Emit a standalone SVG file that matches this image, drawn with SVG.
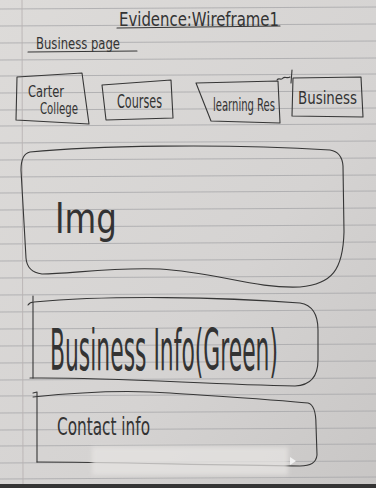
<svg xmlns="http://www.w3.org/2000/svg" width="376" height="488" viewBox="0 0 376 488">
  <defs>
    <linearGradient id="paper" x1="0" y1="0" x2="1" y2="1">
      <stop offset="0" stop-color="#dddbd9"/>
      <stop offset="0.6" stop-color="#d5d3d2"/>
      <stop offset="1" stop-color="#c8c6c5"/>
    </linearGradient>
    <filter id="soft" x="-10%" y="-30%" width="120%" height="160%">
      <feGaussianBlur stdDeviation="2"/>
    </filter>
    <style>
      .rule { stroke: #a7a7aa; stroke-width: 0.8; fill: none; }
      .ink { stroke: #363636; stroke-width: 1.1; fill: none; stroke-linecap: round; stroke-linejoin: round; }
      .hand { font-family: "DejaVu Sans Condensed", "Liberation Sans Narrow", "Liberation Sans", sans-serif; fill: #333333; font-weight: 300; }
    </style>
  </defs>

  <!-- notebook paper -->
  <rect x="0" y="0" width="376" height="488" fill="url(#paper)"/>
  <g id="ruling">
    <path class="rule" d="M0,9 L376,7 M0,26 L376,24 M0,43 L376,41 M0,60 L376,58 M0,76 L376,74 M0,93 L376,91 M0,110 L376,108 M0,126 L376,124 M0,143 L376,141 M0,160 L376,158 M0,177 L376,175 M0,193 L376,191 M0,210 L376,208 M0,227 L376,225 M0,244 L376,242 M0,261 L376,259 M0,278 L376,276 M0,295 L376,293 M0,312 L376,310 M0,329 L376,327 M0,346 L376,344 M0,363 L376,361 M0,380 L376,378 M0,396 L376,394 M0,413 L376,411 M0,430 L376,428 M0,446 L376,444 M0,463 L376,461 M0,479 L376,477"/>
    <line x1="22" y1="0" x2="23" y2="484" stroke="#b9b3b3" stroke-width="0.9"/>
  </g>

  <!-- page heading -->
  <g id="title">
    <text class="hand" transform="translate(119,26) scale(1,1.3)" font-size="15" textLength="160" lengthAdjust="spacingAndGlyphs">Evidence:Wireframe1</text>
    <path class="ink" d="M117,28 L280,26"/>
  </g>
  <g id="page-name">
    <text class="hand" transform="translate(36,49) scale(1,1.3)" font-size="12" textLength="84" lengthAdjust="spacingAndGlyphs">Business page</text>
    <path class="ink" d="M28,52 L137,51"/>
  </g>

  <!-- navigation bar -->
  <g id="nav-home">
    <path class="ink" d="M17,77 L82,73 L89,124 L16,120 Z"/>
    <text class="hand" transform="translate(28,97) scale(1,1.3)" font-size="12" textLength="36" lengthAdjust="spacingAndGlyphs">Carter</text>
    <text class="hand" transform="translate(40,114) scale(1,1.3)" font-size="12" textLength="38" lengthAdjust="spacingAndGlyphs">College</text>
  </g>
  <g id="nav-courses">
    <path class="ink" d="M102,85 L171,80 L173,118 L106,120 Z"/>
    <text class="hand" transform="translate(117,108) scale(1,1.25)" font-size="15" textLength="45" lengthAdjust="spacingAndGlyphs">Courses</text>
  </g>
  <g id="nav-learning">
    <path class="ink" d="M196,83 L278,81 L280,123 L211,121 Z"/>
    <text class="hand" transform="translate(213,111) scale(1,1.4)" font-size="12" textLength="62" lengthAdjust="spacingAndGlyphs">learning Res</text>
    <path class="ink" d="M277,80 C279,77 281,81 283,78 C285,76 287,79 290,77 M292,70 L291,83"/>
  </g>
  <g id="nav-business">
    <path class="ink" d="M293,78 L361,77 L363,117 L292,116 Z"/>
    <text class="hand" transform="translate(298,104) scale(1,1.2)" font-size="15" textLength="59" lengthAdjust="spacingAndGlyphs">Business</text>
  </g>

  <!-- content blocks -->
  <g id="image-block">
    <path class="ink" d="M30,152 C90,146 220,143 330,150 Q342,152 343,166 L344,232 C343,270 332,284 300,287 C255,289 215,272 160,269 C110,267 70,274 42,274 Q27,272 26,258 L21,170 Q21,154 30,152 Z"/>
    <text class="hand" transform="translate(55,233) scale(1,1.5)" font-size="28" textLength="62" lengthAdjust="spacingAndGlyphs">Img</text>
  </g>
  <g id="business-info">
    <path class="ink" d="M28,305 Q30,302 34,302 C110,295 220,297 300,303 Q318,306 318,330 L318,360 Q318,385 295,386 C200,384 110,377 30,378"/>
    <path class="ink" d="M33,296 L33,378"/>
    <text class="hand" transform="translate(50,370) scale(1,1.8)" font-size="32" textLength="228" lengthAdjust="spacingAndGlyphs">Business Info(Green)</text>
  </g>
  <g id="contact-info">
    <path class="ink" d="M33,397 C80,392 130,390 170,393 C230,397 280,400 308,403 Q316,405 316,425 L317,455 Q316,466 300,466 C200,465 110,462 37,462"/>
    <path class="ink" d="M33,393 L37,392 L37,462"/>
    <text class="hand" transform="translate(57,435) scale(1,1.6)" font-size="16" textLength="93" lengthAdjust="spacingAndGlyphs">Contact info</text>
  </g>

  <!-- smudged patch and page edge -->
  <rect x="92" y="447" width="196" height="28" fill="#e6e4e2" opacity="0.75" filter="url(#soft)"/>
  <path d="M290,457 L296,461 L290,465 Z" fill="#f2f2f2"/>
  <rect x="0" y="484" width="376" height="4" fill="#353535"/>
</svg>
